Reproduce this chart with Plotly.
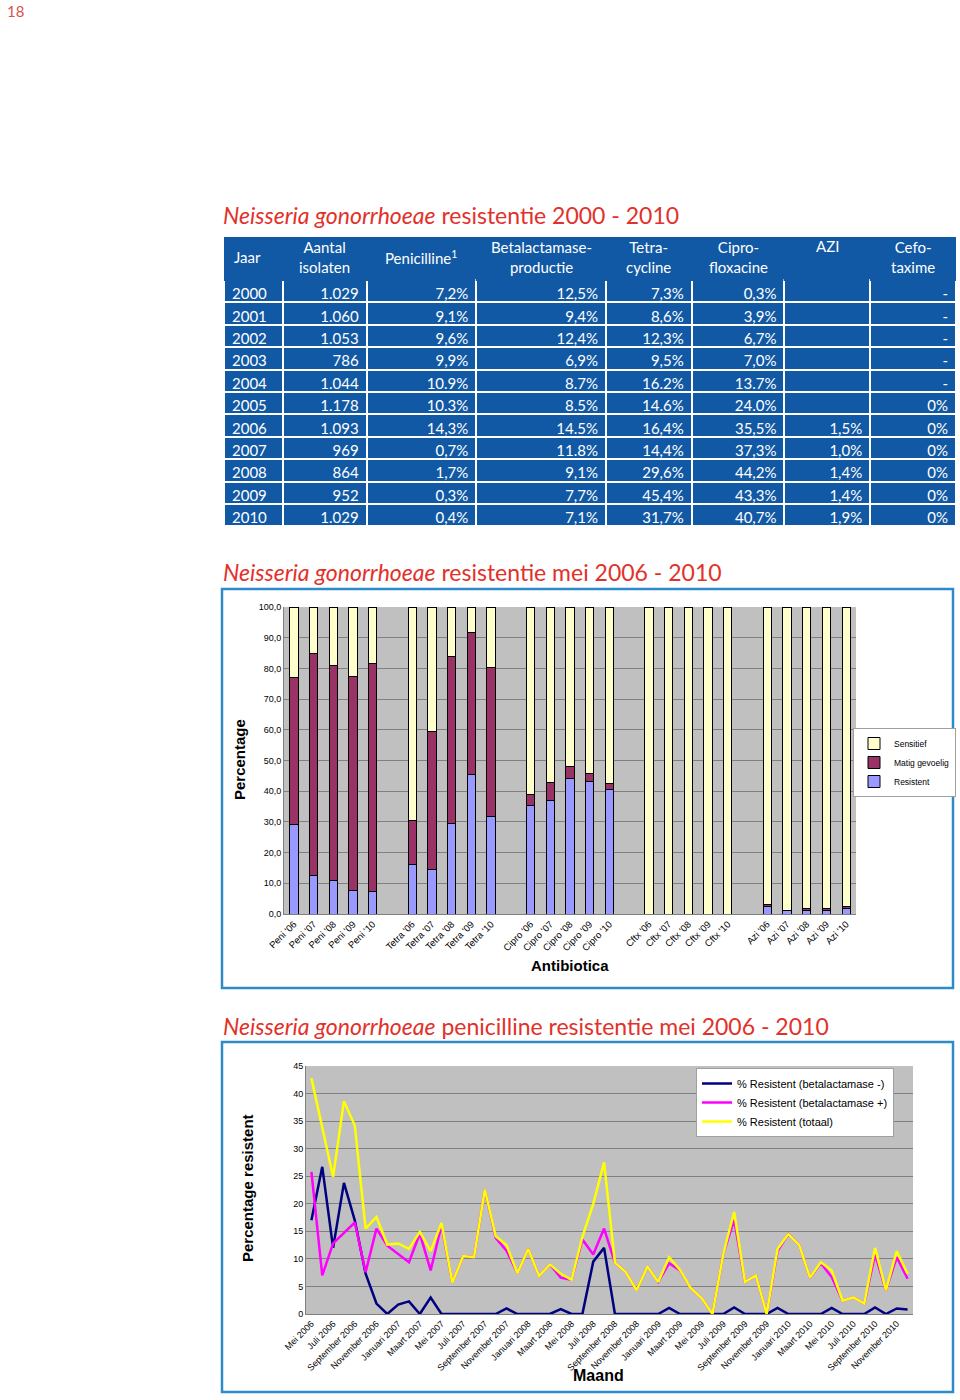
import plotly.graph_objects as go

W, H = 960, 1400
def px(x): return x / W
def py(y): return 1 - y / H

BLUE = "#1259A5"
FRAME = "#2E8BC9"
RED = "#E2312B"
TFONT = "Lato"
CFONT = "Liberation Sans"

# ---------------- Table data ----------------
tbl_headers = ["Jaar", "Aantal<br>isolaten", "Penicilline<sup>1</sup>", "Betalactamase-<br>productie",
               "Tetra-<br>cycline", "Cipro-<br>floxacine", "AZI", "Cefo-<br>taxime"]
jaar = ["2000", "2001", "2002", "2003", "2004", "2005", "2006", "2007", "2008", "2009", "2010"]
aantal = ["1.029", "1.060", "1.053", "786", "1.044", "1.178", "1.093", "969", "864", "952", "1.029"]
penicilline = ["7,2%", "9,1%", "9,6%", "9,9%", "10.9%", "10.3%", "14,3%", "0,7%", "1,7%", "0,3%", "0,4%"]
betalactamase = ["12,5%", "9,4%", "12,4%", "6,9%", "8.7%", "8.5%", "14.5%", "11.8%", "9,1%", "7,7%", "7,1%"]
tetracycline = ["7,3%", "8,6%", "12,3%", "9,5%", "16.2%", "14.6%", "16,4%", "14,4%", "29,6%", "45,4%", "31,7%"]
ciprofloxacine = ["0,3%", "3,9%", "6,7%", "7,0%", "13.7%", "24.0%", "35,5%", "37,3%", "44,2%", "43,3%", "40,7%"]
azi = ["", "", "", "", "", "", "1,5%", "1,0%", "1,4%", "1,4%", "1,9%"]
cefotaxime = ["-", "-", "-", "-", "-", "0%", "0%", "0%", "0%", "0%", "0%"]

# ---------------- Bar chart data ----------------
bar_categories = ["Peni '06", "Peni '07", "Peni '08", "Peni '09", "Peni '10", "",
                  "Tetra '06", "Tetra '07", "Tetra '08", "Tetra '09", "Tetra '10", "",
                  "Cipro '06", "Cipro '07", "Cipro '08", "Cipro '09", "Cipro '10", "",
                  "Cftx '06", "Cftx '07", "Cftx '08", "Cftx '09", "Cftx '10", "",
                  "Azi '06", "Azi '07", "Azi '08", "Azi '09", "Azi '10"]
resistent = [29.2, 12.5, 10.9, 7.8, 7.4, None,
             16.2, 14.4, 29.6, 45.4, 31.6, None,
             35.4, 37.1, 44.1, 43.2, 40.6, None,
             0, 0, 0, 0, 0, None,
             2.5, 1.0, 1.0, 1.0, 1.9]
matig = [47.7, 72.2, 70.0, 69.6, 74.1, None,
         14.3, 45.0, 54.3, 46.2, 48.7, None,
         3.5, 5.8, 3.9, 2.7, 1.9, None,
         0, 0, 0, 0, 0, None,
         0.6, 0.2, 0.7, 0.7, 0.4]
sensitief = [23.1, 15.3, 19.1, 22.6, 18.5, None,
             69.5, 40.6, 16.1, 8.4, 19.7, None,
             61.1, 57.1, 52.0, 54.1, 57.5, None,
             100, 100, 100, 100, 100, None,
             96.9, 98.8, 98.3, 98.3, 97.7]
bar_yticks = [0, 10, 20, 30, 40, 50, 60, 70, 80, 90, 100]
bar_yticklabels = ["0,0", "10,0", "20,0", "30,0", "40,0", "50,0", "60,0", "70,0", "80,0", "90,0", "100,0"]

# ---------------- Line chart data ----------------
month_names = ["Januari", "Februari", "Maart", "April", "Mei", "Juni", "Juli", "Augustus",
               "September", "Oktober", "November", "December"]
years = [2006, 2007, 2008, 2009, 2010]
months = [f"{m} {y}" for y in years for i, m in enumerate(month_names) if not (y == 2006 and i < 4)]

res_beta_neg = [17.0, 26.7, 12.0, 23.8, 17.0, 7.3, 1.9, 0.0, 1.7, 2.3,
                0.0, 3.0, 0.0, 0.0, 0.0, 0.0, 0.0, 0.0, 1.0, 0.0,
                0.0, 0.0, 0.0, 0.9, 0.0, 0.0, 9.5, 12.0, 0.0, 0.0,
                0.0, 0.0, 0.0, 1.1, 0.0, 0.0, 0.0, 0.0, 0.0, 1.2,
                0.0, 0.0, 0.0, 1.1, 0.0, 0.0, 0.0, 0.0, 1.1, 0.0,
                0.0, 0.0, 1.2, 0.0, 1.0, 0.8]
res_beta_pos = [25.8, 7.0, 12.8, 14.7, 16.6, 7.6, 15.5, 12.4, 10.9, 9.4,
                14.6, 7.9, 16.1, 5.7, 10.5, 10.3, 22.6, 13.8, 11.5, 7.4,
                11.8, 6.9, 9.0, 6.6, 6.2, 13.5, 10.8, 15.5, 9.3, 7.6,
                4.3, 8.6, 5.8, 9.2, 7.9, 4.7, 2.9, 0.0, 10.9, 17.1,
                5.8, 7.0, 0.0, 11.4, 14.5, 12.5, 6.6, 9.2, 6.7, 2.4,
                3.0, 1.9, 10.8, 4.3, 10.3, 6.4]
res_totaal = [42.8, 34.0, 24.9, 38.6, 34.2, 15.5, 17.6, 12.6, 12.8, 11.8,
              14.9, 11.4, 16.5, 5.7, 10.5, 10.3, 22.6, 14.1, 12.5, 7.4,
              11.8, 6.9, 9.0, 7.3, 6.2, 14.0, 20.0, 27.5, 9.3, 7.6,
              4.3, 8.6, 5.8, 10.3, 8.0, 4.7, 2.9, 0.0, 10.9, 18.5,
              5.8, 7.0, 0.0, 11.8, 14.5, 12.5, 6.6, 9.4, 7.9, 2.4,
              3.0, 1.9, 12.0, 4.3, 11.4, 7.3]

fig = go.Figure()

# Table (header labels drawn as annotations so the header keeps its height)
TBL_LEFT, TBL_RIGHT, TBL_TOP = 224, 956, 237
col_widths = [59, 84, 110, 130, 86, 93, 86, 86]
fig.add_trace(go.Table(
    domain=dict(x=[px(TBL_LEFT), px(TBL_RIGHT)], y=[py(545), py(TBL_TOP)]),
    columnwidth=col_widths,
    header=dict(values=[""] * len(tbl_headers), fill_color=BLUE, line=dict(color=BLUE, width=1),
                font=dict(color="white", size=14, family=TFONT), height=43),
    cells=dict(values=[jaar, aantal, penicilline, betalactamase, tetracycline, ciprofloxacine, azi, cefotaxime],
               fill_color=BLUE, line=dict(color="white", width=2),
               font=dict(color="white", size=15, family=TFONT),
               align=["left"] + ["right"] * 7, height=22.4)
))

header_annots = []
scale = (TBL_RIGHT - TBL_LEFT) / sum(col_widths)
left = TBL_LEFT
for i, (txt, w) in enumerate(zip(tbl_headers, col_widths)):
    cw = w * scale
    if i == 0:
        header_annots.append(dict(text=txt, x=px(left + 8), y=py(257), xanchor="left", yanchor="middle"))
    else:
        yc = 246 if txt == "AZI" else 257
        header_annots.append(dict(text=txt, x=px(left + cw / 2), y=py(yc), xanchor="center", yanchor="middle"))
    left += cw
for a in header_annots:
    a.update(xref="paper", yref="paper", showarrow=False, align="center",
             font=dict(family=TFONT, size=15, color="white"))

# Bars
xpos = list(range(len(bar_categories)))
for name, vals, color in [("Resistent", resistent, "#9999FF"),
                          ("Matig gevoelig", matig, "#993366"),
                          ("Sensitief", sensitief, "#FFFFCC")]:
    fig.add_trace(go.Bar(x=xpos, y=vals, name=name, marker=dict(color=color, line=dict(color="black", width=1)),
                         xaxis="x", yaxis="y", legend="legend"))

# Lines
for name, vals, color in [("% Resistent (betalactamase -)", res_beta_neg, "#000080"),
                          ("% Resistent (betalactamase +)", res_beta_pos, "#FF00FF"),
                          ("% Resistent (totaal)", res_totaal, "#FFFF00")]:
    fig.add_trace(go.Scatter(x=months, y=vals, name=name, mode="lines", line=dict(color=color, width=2.5),
                             xaxis="x2", yaxis="y2", legend="legend2"))

tick_idx = [i for i, c in enumerate(bar_categories) if c]

def ann(text, x, y, size, angle=0, **kw):
    d = dict(text=text, x=px(x), y=py(y), xref="paper", yref="paper", xanchor="center", yanchor="middle",
             showarrow=False, textangle=angle, font=dict(size=size, color="black", family=CFONT))
    d.update(kw)
    return d

title_font = dict(family=TFONT, size=23, color=RED)
annotations = header_annots + [
    dict(text="18", x=px(5), y=py(11), xref="paper", yref="paper", xanchor="left", yanchor="middle",
         showarrow=False, font=dict(family=TFONT, size=15, color="#D9534F")),
    dict(text="<i>Neisseria gonorrhoeae</i> resistentie 2000 - 2010", x=px(221), y=py(215),
         xref="paper", yref="paper", xanchor="left", yanchor="middle", showarrow=False, font=title_font),
    dict(text="<i>Neisseria gonorrhoeae</i> resistentie mei 2006 - 2010", x=px(221), y=py(572),
         xref="paper", yref="paper", xanchor="left", yanchor="middle", showarrow=False, font=title_font),
    dict(text="<i>Neisseria gonorrhoeae</i> penicilline resistentie mei 2006 - 2010", x=px(221), y=py(1026),
         xref="paper", yref="paper", xanchor="left", yanchor="middle", showarrow=False, font=title_font),
    ann("<b>Percentage</b>", 240, 760, 15, angle=-90),
    ann("<b>Antibiotica</b>", 570, 966, 15),
    ann("<b>Percentage resistent</b>", 247, 1188, 15, angle=-90),
    ann("<b>Maand</b>", 598, 1375, 16),
]

fig.update_layout(
    width=W, height=H, margin=dict(l=0, r=0, t=0, b=0, autoexpand=False),
    paper_bgcolor="white", plot_bgcolor="#C0C0C0",
    barmode="stack", bargap=0.58,
    font=dict(family=CFONT, color="black"),
    xaxis=dict(domain=[px(284), px(856)], anchor="y", range=[-0.5, 28.5],
               tickvals=tick_idx, ticktext=[bar_categories[i] for i in tick_idx],
               tickangle=-45, tickfont=dict(size=9.5), showgrid=False, zeroline=False,
               showline=True, linecolor="#808080", ticks="", automargin=False),
    yaxis=dict(domain=[py(914), py(607)], anchor="x", range=[0, 100],
               tickvals=bar_yticks, ticktext=bar_yticklabels, tickfont=dict(size=9),
               showgrid=True, gridcolor="#808080", gridwidth=1, zeroline=False,
               showline=True, linecolor="#808080", ticks="", automargin=False),
    xaxis2=dict(domain=[px(306), px(913)], anchor="y2", type="category",
                categoryorder="array", categoryarray=months, range=[-0.5, len(months) - 0.5],
                tickvals=months[::2], ticktext=months[::2], tickangle=-45, tickfont=dict(size=9),
                showgrid=False, zeroline=False, showline=True, linecolor="#808080", ticks="",
                automargin=False),
    yaxis2=dict(domain=[py(1314), py(1066)], anchor="x2", range=[0, 45], dtick=5,
                tickfont=dict(size=9), showgrid=True, gridcolor="#808080", gridwidth=1,
                zeroline=False, showline=True, linecolor="#808080", ticks="", automargin=False),
    legend=dict(x=px(853), y=py(728), xanchor="left", yanchor="top", traceorder="reversed",
                bgcolor="white", bordercolor="#A0A0A0", borderwidth=1, font=dict(size=8.5),
                itemwidth=30, tracegroupgap=0),
    legend2=dict(x=px(696), y=py(1068), xanchor="left", yanchor="top", traceorder="normal",
                 bgcolor="white", bordercolor="#A0A0A0", borderwidth=1, font=dict(size=11),
                 itemwidth=30),
    shapes=[
        dict(type="rect", xref="paper", yref="paper", x0=px(222), x1=px(953), y0=py(988), y1=py(589),
             line=dict(color=FRAME, width=2.5), layer="below"),
        dict(type="rect", xref="paper", yref="paper", x0=px(222), x1=px(953), y0=py(1392), y1=py(1042),
             line=dict(color=FRAME, width=2.5), layer="below"),
    ],
    annotations=annotations,
)

fig.write_html("out.html", config={"displayModeBar": False},
               post_script="document.body.style.margin='0px';")
